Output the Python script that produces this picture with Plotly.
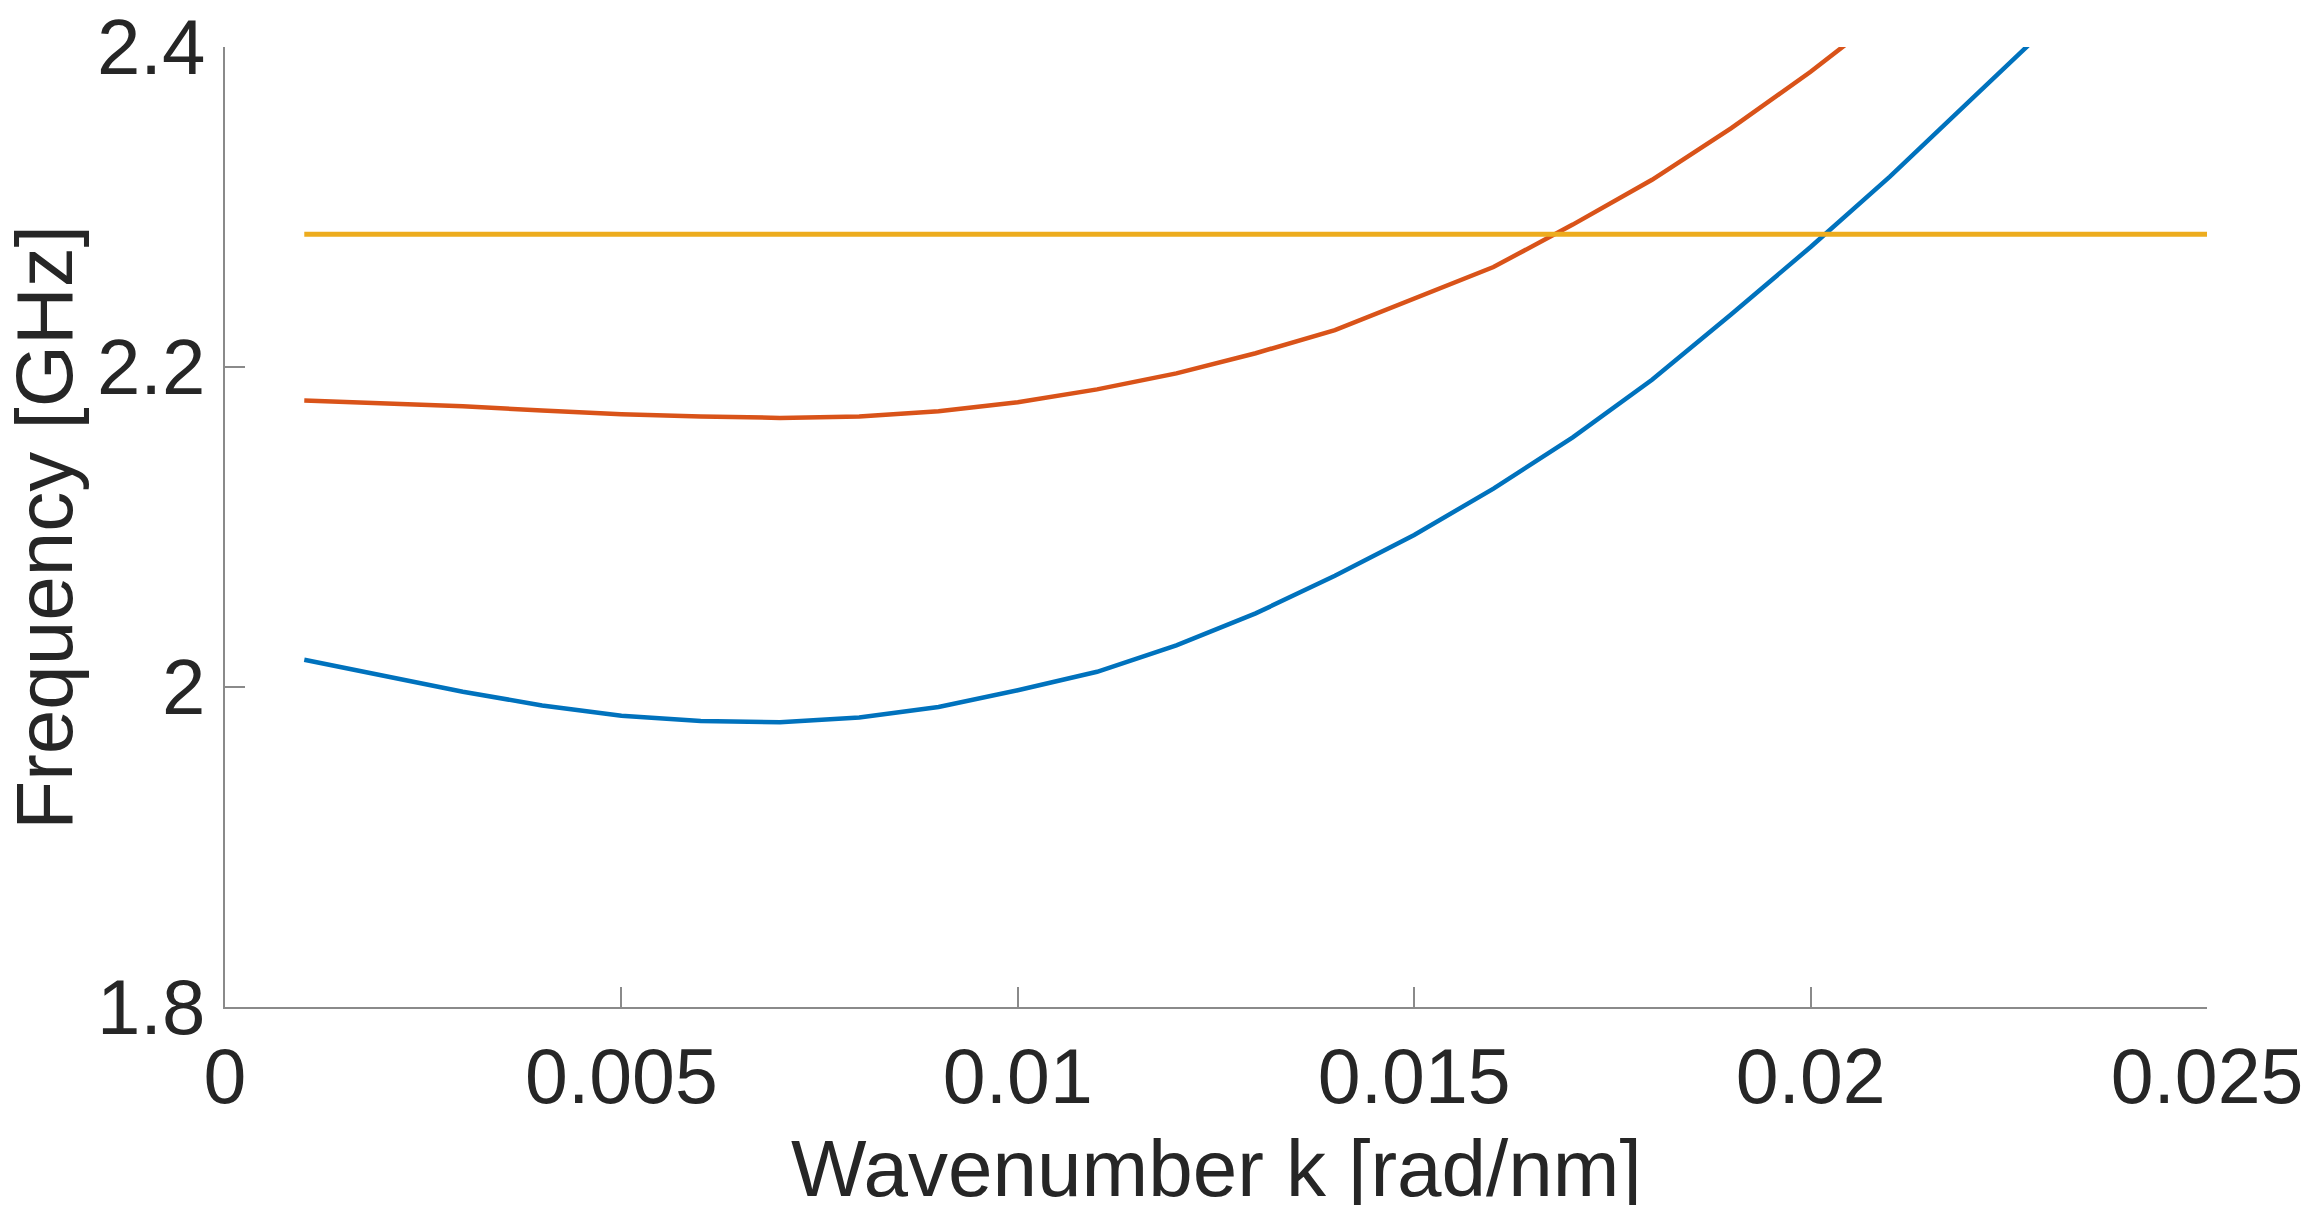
"""
Dispersion curves: frequency vs wavenumber
"""

import plotly.graph_objects as go

# wavenumber samples [rad/nm]
k_values = [0.001, 0.002, 0.003, 0.004, 0.005, 0.006, 0.007, 0.008, 0.009, 0.010,
            0.011, 0.012, 0.013, 0.014, 0.015, 0.016, 0.017, 0.018, 0.019, 0.020,
            0.021, 0.022, 0.023, 0.024, 0.025]

# lower branch [GHz]
mode_1 = [2.017, 2.007, 1.997, 1.9885, 1.982, 1.9787, 1.978, 1.981, 1.9875, 1.998,
          2.0095, 2.026, 2.046, 2.0695, 2.095, 2.124, 2.156, 2.192, 2.233, 2.275,
          2.319, 2.366, 2.413]

# upper branch [GHz]
mode_2 = [2.179, 2.1774, 2.1755, 2.1728, 2.1705, 2.169, 2.1682, 2.169, 2.1724, 2.178,
          2.186, 2.196, 2.2086, 2.2231, 2.2426, 2.2625, 2.289, 2.317, 2.3493, 2.3845,
          2.423]

# excitation frequency [GHz]
f_drive = [2.283, 2.283, 2.283, 2.283, 2.283, 2.283, 2.283, 2.283, 2.283, 2.283,
           2.283, 2.283, 2.283, 2.283, 2.283, 2.283, 2.283, 2.283, 2.283, 2.283,
           2.283, 2.283, 2.283, 2.283, 2.283]

x_ticks = [0, 0.005, 0.01, 0.015, 0.02, 0.025]
x_labels = ["0", "0.005", "0.01", "0.015", "0.02", "0.025"]
y_ticks = [1.8, 2.0, 2.2, 2.4]
y_labels = ["1.8", "2", "2.2", "2.4"]

FONT = "Liberation Sans, Arial, Helvetica, sans-serif"
TEXT = "#262626"
AXIS = "#8a8a8a"

fig = go.Figure()
fig.add_trace(go.Scatter(x=k_values[:len(mode_1)], y=mode_1, mode="lines",
                         line=dict(color="#0072BD", width=4.5)))
fig.add_trace(go.Scatter(x=k_values[:len(mode_2)], y=mode_2, mode="lines",
                         line=dict(color="#D95319", width=4.5)))
fig.add_trace(go.Scatter(x=k_values, y=f_drive, mode="lines",
                         line=dict(color="#EDAC1E", width=5)))

fig.update_xaxes(
    range=[0, 0.025], tickvals=x_ticks, ticktext=x_labels,
    showgrid=False, zeroline=False, showline=True, linecolor=AXIS, linewidth=2,
    ticks="inside", ticklen=20, tickwidth=2, tickcolor=AXIS,
    tickfont=dict(family=FONT, size=77, color=TEXT), ticklabelstandoff=2,
    ticklabeloverflow="allow",
)
fig.update_yaxes(
    range=[1.8, 2.4], tickvals=y_ticks, ticktext=y_labels,
    showgrid=False, zeroline=False, showline=True, linecolor=AXIS, linewidth=2,
    ticks="inside", ticklen=20, tickwidth=2, tickcolor=AXIS,
    tickfont=dict(family=FONT, size=78, color=TEXT), ticklabelstandoff=2,
    ticklabeloverflow="allow",
)

fig.update_layout(
    width=2302, height=1197,
    margin=dict(l=217, r=103, t=39, b=198, autoexpand=False),
    paper_bgcolor="white", plot_bgcolor="white",
    showlegend=False,
    annotations=[
        dict(text="Wavenumber k [rad/nm]", xref="paper", yref="paper",
             x=0.5, y=-0.168, xanchor="center", yanchor="middle", showarrow=False,
             font=dict(family=FONT, size=80, color=TEXT)),
        dict(text="Frequency [GHz]", xref="paper", yref="paper",
             x=-0.0915, y=0.5, xanchor="center", yanchor="middle", showarrow=False,
             textangle=-90, font=dict(family=FONT, size=80, color=TEXT)),
    ],
)

fig.write_html("out.html")
